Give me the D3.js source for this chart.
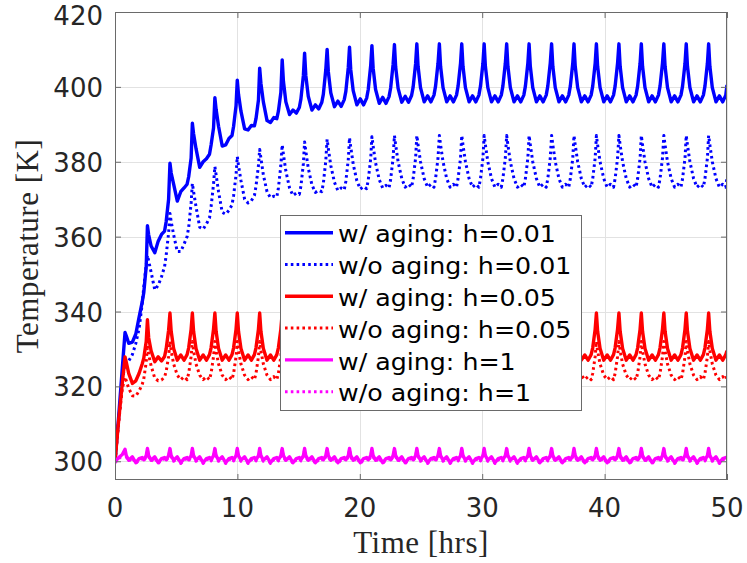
<!DOCTYPE html>
<html lang="en">
<head>
<meta charset="utf-8">
<title>Temperature vs time</title>
<script src="https://cdnjs.cloudflare.com/ajax/libs/d3/7.8.5/d3.min.js"></script>
<style>
    body { margin: 0; background: #fff; }
    .tick-label { font-family: "DejaVu Sans", sans-serif; font-size: 26px; fill: #262626; }
    .axis-title { font-family: "Liberation Serif", serif; font-size: 31px; fill: #262626; letter-spacing: 0.5px; }
    .legend text { font-family: "DejaVu Sans", sans-serif; font-size: 23px; fill: #000; }
    .grid line { stroke: #e2e2e2; stroke-width: 1; shape-rendering: crispEdges; }
    .frame { fill: none; stroke: #6a6a6a; stroke-width: 1; shape-rendering: crispEdges; }
    .line { fill: none; stroke-linejoin: round; }
</style>
</head>
<body>
<div id="chart"></div>
<script>

// Time grid: one row of samples per cycle, peaks
const PEAK_TIMES = [0.82, 2.65, 4.49, 6.32, 8.16, 9.99, 11.82, 13.66, 15.49, 17.33,
                    19.16, 20.99, 22.83, 24.66, 26.50, 28.33, 30.16, 32.00, 33.83, 35.67,
                    37.50, 39.33, 41.17, 43.00, 44.84, 46.67, 48.50];
const CYCLE_OFFSETS = [0, 0.1, 0.3, 0.6, 0.88, 1.15, 1.4, 1.53, 1.73];
const START_TIMES = [0, 0.3, 0.6];
const END_TIME = 50;

const X_TICKS = [0, 10, 20, 30, 40, 50];
const Y_TICKS = [300, 320, 340, 360, 380, 400, 420];

const LABELS = ['w/ aging: h=0.01', 'w/o aging: h=0.01',
                'w/ aging: h=0.05', 'w/o aging: h=0.05',
                'w/ aging: h=1', 'w/o aging: h=1'];

// Temperatures [K]; first row = START_TIMES, then one row per peak, last row = END_TIME
const blueAging = [
    [300, 312, 325],
    [334.4, 333.5, 331.5, 331.8, 334, 338.5, 342.5, 345, 352],
    [362.9, 360.5, 357.5, 355.7, 358.8, 360.6, 361.5, 364, 370],
    [379.6, 377, 374, 369.5, 372, 373, 374, 376, 381],
    [390.3, 387.5, 383.5, 378.5, 380, 380.8, 382, 384.5, 389],
    [397.1, 394, 389.5, 384.2, 384.5, 386.2, 387, 389.5, 395],
    [401.8, 398, 393.5, 388.8, 388.5, 389.7, 389.6, 391.5, 396.5],
    [405, 401, 396, 391, 390.5, 391.8, 391.5, 393.5, 398.5],
    [407.2, 401.5, 396, 392.6, 393.8, 393, 394.5, 396.8, 403],
    [409, 403, 397.5, 393.8, 395.2, 394.1, 395.8, 398, 404.5],
    [410, 404, 398.4, 394.7, 396.2, 394.8, 396.6, 398.8, 405.2],
    [410.6, 404.6, 399, 395.2, 396.8, 395.2, 397, 399.3, 405.7],
    [411, 405, 399.3, 395.6, 397.2, 395.6, 397.4, 399.7, 406],
    [411.3, 405.3, 399.6, 395.9, 397.5, 395.9, 397.7, 400, 406.2],
    [411.5, 405.5, 399.8, 396, 397.6, 396, 397.8, 400.2, 406.3],
    [411.5, 405.5, 399.8, 396, 397.6, 396, 397.8, 400.2, 406.3],
    [411.5, 405.5, 399.8, 396, 397.6, 396, 397.8, 400.2, 406.3],
    [411.5, 405.5, 399.8, 396, 397.6, 396, 397.8, 400.2, 406.3],
    [411.5, 405.5, 399.8, 396, 397.6, 396, 397.8, 400.2, 406.3],
    [411.5, 405.5, 399.8, 396, 397.6, 396, 397.8, 400.2, 406.3],
    [411.5, 405.5, 399.8, 396, 397.6, 396, 397.8, 400.2, 406.3],
    [411.5, 405.5, 399.8, 396, 397.6, 396, 397.8, 400.2, 406.3],
    [411.5, 405.5, 399.8, 396, 397.6, 396, 397.8, 400.2, 406.3],
    [411.5, 405.5, 399.8, 396, 397.6, 396, 397.8, 400.2, 406.3],
    [411.5, 405.5, 399.8, 396, 397.6, 396, 397.8, 400.2, 406.3],
    [411.5, 405.5, 399.8, 396, 397.6, 396, 397.8, 400.2, 406.3],
    [411.5, 405.5, 399.8, 396, 397.6, 396, 397.8, 400.2, 406.3],
    [411.5, 405.5, 399.8, 396, 397.6, 396, 397.8],
    [400.5]
];

const blueNoAging = [
    [300, 311, 321],
    [326.5, 326.4, 326.8, 328.5, 331.5, 335.5, 342, 346.5, 352.5],
    [355, 353.5, 350.5, 345.8, 347, 349.3, 352, 355, 361],
    [366.2, 364, 360.5, 356, 356, 358, 360, 362.5, 369],
    [374.2, 372, 368, 362.5, 362, 363.4, 365, 368, 374],
    [378.7, 376.5, 372, 366.5, 366, 367, 368.5, 371, 376.5],
    [381.4, 379, 375, 370, 369, 369.6, 371, 373.5, 379],
    [383.3, 381, 376.5, 372, 370.4, 370.8, 370.6, 373, 379],
    [384.5, 382, 377.5, 373, 371, 371.6, 371.3, 373.5, 379.5],
    [385.3, 382.8, 378.3, 373.8, 371.8, 372.4, 372, 374.2, 380.2],
    [386, 383.5, 379, 374.5, 372.3, 373, 372.5, 374.8, 380.6],
    [386.4, 383.9, 379.4, 374.9, 372.7, 373.4, 372.8, 375.1, 380.8],
    [386.7, 384.2, 379.7, 375.2, 373, 373.7, 373, 375.3, 381],
    [387, 384.5, 380, 375.5, 373.2, 374, 373.2, 375.5, 381],
    [387, 384.5, 380, 375.5, 373.2, 374, 373.2, 375.5, 381],
    [387, 384.5, 380, 375.5, 373.2, 374, 373.2, 375.5, 381],
    [387, 384.5, 380, 375.5, 373.2, 374, 373.2, 375.5, 381],
    [387, 384.5, 380, 375.5, 373.2, 374, 373.2, 375.5, 381],
    [387, 384.5, 380, 375.5, 373.2, 374, 373.2, 375.5, 381],
    [387, 384.5, 380, 375.5, 373.2, 374, 373.2, 375.5, 381],
    [387, 384.5, 380, 375.5, 373.2, 374, 373.2, 375.5, 381],
    [387, 384.5, 380, 375.5, 373.2, 374, 373.2, 375.5, 381],
    [387, 384.5, 380, 375.5, 373.2, 374, 373.2, 375.5, 381],
    [387, 384.5, 380, 375.5, 373.2, 374, 373.2, 375.5, 381],
    [387, 384.5, 380, 375.5, 373.2, 374, 373.2, 375.5, 381],
    [387, 384.5, 380, 375.5, 373.2, 374, 373.2, 375.5, 381],
    [387, 384.5, 380, 375.5, 373.2, 374, 373.2, 375.5, 381],
    [387, 384.5, 380, 375.5, 373.2, 374, 373.2],
    [376]
];

const redAging = [
    [300, 311, 321],
    [327.9, 326.5, 323.5, 320.8, 321.5, 323.5, 326, 327.5, 332],
    [337.8, 333, 329.5, 326.6, 327.9, 326.8, 328, 330, 335],
    [339.6, 334.7, 330.1, 327, 328.4, 327, 328.5, 330.3, 335.3],
    [339.6, 334.7, 330.1, 327, 328.4, 327, 328.5, 330.3, 335.3],
    [339.6, 334.7, 330.1, 327, 328.4, 327, 328.5, 330.3, 335.3],
    [339.6, 334.7, 330.1, 327, 328.4, 327, 328.5, 330.3, 335.3],
    [339.6, 334.7, 330.1, 327, 328.4, 327, 328.5, 330.3, 335.3],
    [339.6, 334.7, 330.1, 327, 328.4, 327, 328.5, 330.3, 335.3],
    [339.6, 334.7, 330.1, 327, 328.4, 327, 328.5, 330.3, 335.3],
    [339.6, 334.7, 330.1, 327, 328.4, 327, 328.5, 330.3, 335.3],
    [339.6, 334.7, 330.1, 327, 328.4, 327, 328.5, 330.3, 335.3],
    [339.6, 334.7, 330.1, 327, 328.4, 327, 328.5, 330.3, 335.3],
    [339.6, 334.7, 330.1, 327, 328.4, 327, 328.5, 330.3, 335.3],
    [339.6, 334.7, 330.1, 327, 328.4, 327, 328.5, 330.3, 335.3],
    [339.6, 334.7, 330.1, 327, 328.4, 327, 328.5, 330.3, 335.3],
    [339.6, 334.7, 330.1, 327, 328.4, 327, 328.5, 330.3, 335.3],
    [339.6, 334.7, 330.1, 327, 328.4, 327, 328.5, 330.3, 335.3],
    [339.6, 334.7, 330.1, 327, 328.4, 327, 328.5, 330.3, 335.3],
    [339.6, 334.7, 330.1, 327, 328.4, 327, 328.5, 330.3, 335.3],
    [339.6, 334.7, 330.1, 327, 328.4, 327, 328.5, 330.3, 335.3],
    [339.6, 334.7, 330.1, 327, 328.4, 327, 328.5, 330.3, 335.3],
    [339.6, 334.7, 330.1, 327, 328.4, 327, 328.5, 330.3, 335.3],
    [339.6, 334.7, 330.1, 327, 328.4, 327, 328.5, 330.3, 335.3],
    [339.6, 334.7, 330.1, 327, 328.4, 327, 328.5, 330.3, 335.3],
    [339.6, 334.7, 330.1, 327, 328.4, 327, 328.5, 330.3, 335.3],
    [339.6, 334.7, 330.1, 327, 328.4, 327, 328.5, 330.3, 335.3],
    [339.6, 334.7, 330.1, 327, 328.4, 327, 328.5],
    [329.5]
];

const redNoAging = [
    [300, 310.5, 319.5],
    [322.5, 321.5, 319.5, 317.5, 317.4, 318.8, 320.5, 322, 326.5],
    [331, 328.5, 325.5, 322.2, 321.5, 321.7, 322.5, 324, 328],
    [332, 329.5, 326, 323, 321.8, 322.6, 321.8, 323.5, 328],
    [332, 329.5, 326, 323, 321.8, 322.6, 321.8, 323.5, 328],
    [332, 329.5, 326, 323, 321.8, 322.6, 321.8, 323.5, 328],
    [332, 329.5, 326, 323, 321.8, 322.6, 321.8, 323.5, 328],
    [332, 329.5, 326, 323, 321.8, 322.6, 321.8, 323.5, 328],
    [332, 329.5, 326, 323, 321.8, 322.6, 321.8, 323.5, 328],
    [332, 329.5, 326, 323, 321.8, 322.6, 321.8, 323.5, 328],
    [332, 329.5, 326, 323, 321.8, 322.6, 321.8, 323.5, 328],
    [332, 329.5, 326, 323, 321.8, 322.6, 321.8, 323.5, 328],
    [332, 329.5, 326, 323, 321.8, 322.6, 321.8, 323.5, 328],
    [332, 329.5, 326, 323, 321.8, 322.6, 321.8, 323.5, 328],
    [332, 329.5, 326, 323, 321.8, 322.6, 321.8, 323.5, 328],
    [332, 329.5, 326, 323, 321.8, 322.6, 321.8, 323.5, 328],
    [332, 329.5, 326, 323, 321.8, 322.6, 321.8, 323.5, 328],
    [332, 329.5, 326, 323, 321.8, 322.6, 321.8, 323.5, 328],
    [332, 329.5, 326, 323, 321.8, 322.6, 321.8, 323.5, 328],
    [332, 329.5, 326, 323, 321.8, 322.6, 321.8, 323.5, 328],
    [332, 329.5, 326, 323, 321.8, 322.6, 321.8, 323.5, 328],
    [332, 329.5, 326, 323, 321.8, 322.6, 321.8, 323.5, 328],
    [332, 329.5, 326, 323, 321.8, 322.6, 321.8, 323.5, 328],
    [332, 329.5, 326, 323, 321.8, 322.6, 321.8, 323.5, 328],
    [332, 329.5, 326, 323, 321.8, 322.6, 321.8, 323.5, 328],
    [332, 329.5, 326, 323, 321.8, 322.6, 321.8, 323.5, 328],
    [332, 329.5, 326, 323, 321.8, 322.6, 321.8, 323.5, 328],
    [332, 329.5, 326, 323, 321.8, 322.6, 321.8],
    [323]
];

const magentaAging = [
    [299.8, 301, 301.8],
    [303.2, 301.5, 300.3, 301.2, 299.6, 300.7, 301, 300.4, 301.5],
    [303.4, 301.5, 300.3, 301.2, 299.6, 300.7, 301, 300.4, 301.5],
    [303.4, 301.5, 300.3, 301.2, 299.6, 300.7, 301, 300.4, 301.5],
    [303.4, 301.5, 300.3, 301.2, 299.6, 300.7, 301, 300.4, 301.5],
    [303.4, 301.5, 300.3, 301.2, 299.6, 300.7, 301, 300.4, 301.5],
    [303.4, 301.5, 300.3, 301.2, 299.6, 300.7, 301, 300.4, 301.5],
    [303.4, 301.5, 300.3, 301.2, 299.6, 300.7, 301, 300.4, 301.5],
    [303.4, 301.5, 300.3, 301.2, 299.6, 300.7, 301, 300.4, 301.5],
    [303.4, 301.5, 300.3, 301.2, 299.6, 300.7, 301, 300.4, 301.5],
    [303.4, 301.5, 300.3, 301.2, 299.6, 300.7, 301, 300.4, 301.5],
    [303.4, 301.5, 300.3, 301.2, 299.6, 300.7, 301, 300.4, 301.5],
    [303.4, 301.5, 300.3, 301.2, 299.6, 300.7, 301, 300.4, 301.5],
    [303.4, 301.5, 300.3, 301.2, 299.6, 300.7, 301, 300.4, 301.5],
    [303.4, 301.5, 300.3, 301.2, 299.6, 300.7, 301, 300.4, 301.5],
    [303.4, 301.5, 300.3, 301.2, 299.6, 300.7, 301, 300.4, 301.5],
    [303.4, 301.5, 300.3, 301.2, 299.6, 300.7, 301, 300.4, 301.5],
    [303.4, 301.5, 300.3, 301.2, 299.6, 300.7, 301, 300.4, 301.5],
    [303.4, 301.5, 300.3, 301.2, 299.6, 300.7, 301, 300.4, 301.5],
    [303.4, 301.5, 300.3, 301.2, 299.6, 300.7, 301, 300.4, 301.5],
    [303.4, 301.5, 300.3, 301.2, 299.6, 300.7, 301, 300.4, 301.5],
    [303.4, 301.5, 300.3, 301.2, 299.6, 300.7, 301, 300.4, 301.5],
    [303.4, 301.5, 300.3, 301.2, 299.6, 300.7, 301, 300.4, 301.5],
    [303.4, 301.5, 300.3, 301.2, 299.6, 300.7, 301, 300.4, 301.5],
    [303.4, 301.5, 300.3, 301.2, 299.6, 300.7, 301, 300.4, 301.5],
    [303.4, 301.5, 300.3, 301.2, 299.6, 300.7, 301, 300.4, 301.5],
    [303.4, 301.5, 300.3, 301.2, 299.6, 300.7, 301, 300.4, 301.5],
    [303.4, 301.5, 300.3, 301.2, 299.6, 300.7, 301],
    [300.8]
];

const magentaNoAging = [
    [299.6, 300.7, 301.5],
    [303, 301.2, 300, 300.9, 299.4, 300.4, 300.7, 300.1, 301.2],
    [303.1, 301.2, 300, 300.9, 299.4, 300.4, 300.7, 300.1, 301.2],
    [303.1, 301.2, 300, 300.9, 299.4, 300.4, 300.7, 300.1, 301.2],
    [303.1, 301.2, 300, 300.9, 299.4, 300.4, 300.7, 300.1, 301.2],
    [303.1, 301.2, 300, 300.9, 299.4, 300.4, 300.7, 300.1, 301.2],
    [303.1, 301.2, 300, 300.9, 299.4, 300.4, 300.7, 300.1, 301.2],
    [303.1, 301.2, 300, 300.9, 299.4, 300.4, 300.7, 300.1, 301.2],
    [303.1, 301.2, 300, 300.9, 299.4, 300.4, 300.7, 300.1, 301.2],
    [303.1, 301.2, 300, 300.9, 299.4, 300.4, 300.7, 300.1, 301.2],
    [303.1, 301.2, 300, 300.9, 299.4, 300.4, 300.7, 300.1, 301.2],
    [303.1, 301.2, 300, 300.9, 299.4, 300.4, 300.7, 300.1, 301.2],
    [303.1, 301.2, 300, 300.9, 299.4, 300.4, 300.7, 300.1, 301.2],
    [303.1, 301.2, 300, 300.9, 299.4, 300.4, 300.7, 300.1, 301.2],
    [303.1, 301.2, 300, 300.9, 299.4, 300.4, 300.7, 300.1, 301.2],
    [303.1, 301.2, 300, 300.9, 299.4, 300.4, 300.7, 300.1, 301.2],
    [303.1, 301.2, 300, 300.9, 299.4, 300.4, 300.7, 300.1, 301.2],
    [303.1, 301.2, 300, 300.9, 299.4, 300.4, 300.7, 300.1, 301.2],
    [303.1, 301.2, 300, 300.9, 299.4, 300.4, 300.7, 300.1, 301.2],
    [303.1, 301.2, 300, 300.9, 299.4, 300.4, 300.7, 300.1, 301.2],
    [303.1, 301.2, 300, 300.9, 299.4, 300.4, 300.7, 300.1, 301.2],
    [303.1, 301.2, 300, 300.9, 299.4, 300.4, 300.7, 300.1, 301.2],
    [303.1, 301.2, 300, 300.9, 299.4, 300.4, 300.7, 300.1, 301.2],
    [303.1, 301.2, 300, 300.9, 299.4, 300.4, 300.7, 300.1, 301.2],
    [303.1, 301.2, 300, 300.9, 299.4, 300.4, 300.7, 300.1, 301.2],
    [303.1, 301.2, 300, 300.9, 299.4, 300.4, 300.7, 300.1, 301.2],
    [303.1, 301.2, 300, 300.9, 299.4, 300.4, 300.7, 300.1, 301.2],
    [303.1, 301.2, 300, 300.9, 299.4, 300.4, 300.7],
    [300.5]
];

const SERIES = [
    {label: LABELS[0], rows: blueAging,      color: '#0000ff', dotted: false},
    {label: LABELS[1], rows: blueNoAging,    color: '#0000ff', dotted: true},
    {label: LABELS[2], rows: redAging,       color: '#ff0000', dotted: false},
    {label: LABELS[3], rows: redNoAging,     color: '#ff0000', dotted: true},
    {label: LABELS[4], rows: magentaAging,   color: '#ff00ff', dotted: false},
    {label: LABELS[5], rows: magentaNoAging, color: '#ff00ff', dotted: true}
];

// Chart size
const WIDTH = 747,
      HEIGHT = 563,
      MARGIN = {top: 12, right: 20, bottom: 83, left: 115};

// build the shared time axis
let times = START_TIMES.slice();
PEAK_TIMES.forEach(p => {
    CYCLE_OFFSETS.forEach(o => {
        if (p + o < END_TIME) times.push(p + o);
    });
});
times.push(END_TIME);

function toPoints(rows) {
    let vals = rows.flat();
    if (vals.length != times.length) console.warn('length mismatch', vals.length, times.length);
    return vals.map((v, i) => [times[i], v]);
}

let svg = d3.select("#chart")
    .append("svg")
    .attr("width", WIDTH)
    .attr("height", HEIGHT);

svg.append("rect").attr("width", WIDTH).attr("height", HEIGHT).attr("fill", "#fff");

let xScale = d3.scaleLinear()
    .domain([0, 50])
    .range([MARGIN.left, WIDTH - MARGIN.right]);

let yScale = d3.scaleLinear()
    .domain([295, 420])
    .range([HEIGHT - MARGIN.bottom, MARGIN.top]);

let x0 = xScale.range()[0], x1 = xScale.range()[1],
    y0 = yScale.range()[0], y1 = yScale.range()[1];

// grid
let grid = svg.append("g").attr("class", "grid");
grid.selectAll(".gx").data(X_TICKS).enter().append("line")
    .attr("x1", d => Math.round(xScale(d)) + 0.5).attr("x2", d => Math.round(xScale(d)) + 0.5)
    .attr("y1", y1).attr("y2", y0);
grid.selectAll(".gy").data(Y_TICKS).enter().append("line")
    .attr("y1", d => Math.round(yScale(d)) + 0.5).attr("y2", d => Math.round(yScale(d)) + 0.5)
    .attr("x1", x0).attr("x2", x1);

// curves
svg.append("clipPath").attr("id", "plotclip")
    .append("rect").attr("x", x0).attr("y", y1).attr("width", x1 - x0).attr("height", y0 - y1);

let lineGen = d3.line()
    .x(d => xScale(d[0]))
    .y(d => yScale(d[1]));

const SOLID_W = 3.4, DOT_W = 3, DOT_DASH = "2.6 3.2";

let plot = svg.append("g").attr("clip-path", "url(#plotclip)");
SERIES.forEach(s => {
    plot.append("path")
        .datum(toPoints(s.rows))
        .attr("class", "line")
        .attr("d", lineGen)
        .attr("stroke", s.color)
        .attr("stroke-width", s.dotted ? DOT_W : SOLID_W)
        .attr("stroke-dasharray", s.dotted ? DOT_DASH : null);
});

// axes box with inward ticks on all four sides
let axisColor = "#6a6a6a";
let xAxis = d3.axisBottom(xScale).tickValues(X_TICKS).tickSizeInner(-6).tickSizeOuter(0).tickFormat("");
let xAxisTop = d3.axisTop(xScale).tickValues(X_TICKS).tickSizeInner(-6).tickSizeOuter(0).tickFormat("");
let yAxis = d3.axisLeft(yScale).tickValues(Y_TICKS).tickSizeInner(-6).tickSizeOuter(0).tickFormat("");
let yAxisRight = d3.axisRight(yScale).tickValues(Y_TICKS).tickSizeInner(-6).tickSizeOuter(0).tickFormat("");

[[xAxis, "translate(0," + y0 + ")"], [xAxisTop, "translate(0," + y1 + ")"],
 [yAxis, "translate(" + x0 + ",0)"], [yAxisRight, "translate(" + x1 + ",0)"]].forEach(a => {
    let g = svg.append("g").attr("transform", a[1]).call(a[0]);
    g.select(".domain").remove();
    g.selectAll("line").attr("stroke", axisColor);
});

svg.append("rect")
    .attr("class", "frame")
    .attr("x", x0 + 0.5).attr("y", y1 + 0.5)
    .attr("width", x1 - x0 - 1).attr("height", y0 - y1 - 1);

// tick labels
svg.selectAll(".xl").data(X_TICKS).enter().append("text")
    .attr("class", "tick-label")
    .attr("x", d => xScale(d))
    .attr("y", 517)
    .attr("text-anchor", "middle")
    .text(d => d);

svg.selectAll(".yl").data(Y_TICKS).enter().append("text")
    .attr("class", "tick-label")
    .attr("x", 103)
    .attr("y", d => Math.max(yScale(d) + 10, 25))
    .attr("text-anchor", "end")
    .text(d => d);

// axis titles
svg.append("text")
    .attr("class", "axis-title")
    .attr("x", (x0 + x1) / 2)
    .attr("y", 553)
    .attr("text-anchor", "middle")
    .text("Time [hrs]");

svg.append("text")
    .attr("class", "axis-title")
    .attr("transform", "translate(38," + ((y0 + y1) / 2) + ") rotate(-90)")
    .attr("text-anchor", "middle")
    .text("Temperature [K]");

// legend
let legend = svg.append("g").attr("class", "legend");
legend.append("rect")
    .attr("x", 280.5).attr("y", 215.5)
    .attr("width", 301).attr("height", 195)
    .attr("fill", "#fff")
    .attr("stroke", axisColor)
    .attr("stroke-width", 1);

let rowH = 31.8;
let items = legend.selectAll(".item").data(SERIES).enter().append("g")
    .attr("transform", (d, i) => "translate(0," + (232.7 + i * rowH) + ")");

items.append("line")
    .attr("x1", 285).attr("x2", 333)
    .attr("y1", 0).attr("y2", 0)
    .attr("stroke", d => d.color)
    .attr("stroke-width", d => d.dotted ? DOT_W : SOLID_W)
    .attr("stroke-dasharray", d => d.dotted ? DOT_DASH : null);

items.append("text")
    .attr("transform", "translate(338,9.6) scale(1.1,1)")
    .text(d => d.label);

</script>
</body>
</html>
